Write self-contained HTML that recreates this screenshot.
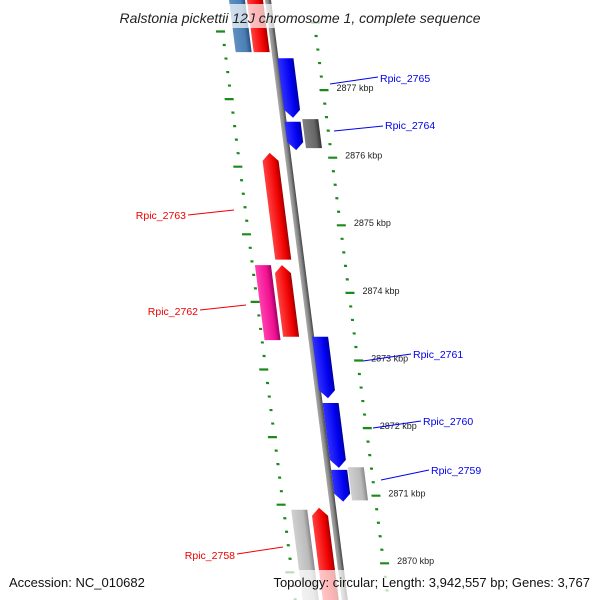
<!DOCTYPE html>
<html><head><meta charset="utf-8"><style>
body{margin:0;background:#fff;}
svg{display:block;font-family:"Liberation Sans",sans-serif;}
</style></head><body>
<svg width="600" height="600" viewBox="0 0 600 600">
<defs>
<linearGradient id="gBlue" x1="0" x2="1" y1="0" y2="0"><stop offset="0" stop-color="#3030ff"/><stop offset="0.7" stop-color="#0000f0"/><stop offset="1" stop-color="#0000a0"/></linearGradient>
<linearGradient id="gRed" x1="0" x2="1" y1="0" y2="0"><stop offset="0" stop-color="#ff4040"/><stop offset="0.7" stop-color="#f00000"/><stop offset="1" stop-color="#a00000"/></linearGradient>
<linearGradient id="gPink" x1="0" x2="1" y1="0" y2="0"><stop offset="0" stop-color="#ff40b0"/><stop offset="0.7" stop-color="#f01090"/><stop offset="1" stop-color="#a00060"/></linearGradient>
<linearGradient id="gSteel" x1="0" x2="1" y1="0" y2="0"><stop offset="0" stop-color="#6090c0"/><stop offset="0.7" stop-color="#4a7fb5"/><stop offset="1" stop-color="#2a5080"/></linearGradient>
<linearGradient id="gDark" x1="0" x2="1" y1="0" y2="0"><stop offset="0" stop-color="#808080"/><stop offset="0.7" stop-color="#666"/><stop offset="1" stop-color="#333"/></linearGradient>
<linearGradient id="gLight" x1="0" x2="1" y1="0" y2="0"><stop offset="0" stop-color="#d0d0d0"/><stop offset="0.7" stop-color="#bbb"/><stop offset="1" stop-color="#888"/></linearGradient>
<linearGradient id="gBack" x1="0" x2="1" y1="0" y2="0"><stop offset="0" stop-color="#aaa"/><stop offset="0.5" stop-color="#888"/><stop offset="1" stop-color="#444"/></linearGradient>
</defs>
<g id="track" transform="matrix(1,0,0.128,1,268,0)"></g>
<g id="overlay"></g>
<rect x="95" y="4" width="410" height="24" fill="#fff" fill-opacity="0.7"/>
<text x="300" y="23" text-anchor="middle" font-size="14" font-style="italic" fill="#222">Ralstonia pickettii 12J chromosome 1, complete sequence</text>
<rect x="0" y="570" width="600" height="30" fill="#fff" fill-opacity="0.7"/>
<text x="9" y="587" font-size="13" fill="#111">Accession: NC_010682</text>
<text x="590" y="587" text-anchor="end" font-size="13" fill="#111">Topology: circular; Length: 3,942,557 bp; Genes: 3,767</text>
</svg>
<script>
const tickKbp=[2878,2877,2876,2875,2874,2873,2872,2871,2870,2869];
const geneNames=["g-top-steel","g-top-red","Rpic_2765","Rpic_2764","g-2764-gray","Rpic_2763","g-2762-pink","Rpic_2762","Rpic_2761","Rpic_2760","Rpic_2759","g-2759-gray","g-2758-gray","Rpic_2758"];
const geneStart=[2878.41,2878.41,2877.47,2876.53,2876.57,2876.07,2874.41,2874.41,2873.35,2872.37,2871.38,2871.42,2870.79,2870.82];
const geneEnd=[2877.56,2877.56,2876.59,2876.11,2876.14,2874.49,2873.30,2873.35,2872.44,2871.41,2870.91,2870.93,2869.38,2869.38];
const geneLane=[-31,-13,10,9,27,-18,-39,-20,9,11,11,28,-34,-14];
const geneFill=["gSteel","gRed","gBlue","gBlue","gDark","gRed","gPink","gRed","gBlue","gBlue","gBlue","gLight","gLight","gRed"];
const geneDir=[0,0,1,1,0,-1,0,-1,1,1,1,0,0,-1];
const labelNames=["Rpic_2765","Rpic_2764","Rpic_2763","Rpic_2762","Rpic_2761","Rpic_2760","Rpic_2759","Rpic_2758"];
const labelPos=[[380,82],[385,129],[186,219],[198,315],[413,358],[423,425],[431,474],[235,559]];
const labelLine=[[330,84,378,77],[334,131,383,126],[188,215,234,210],[200,310,246,305],[363,361,411,354],[373,428,421,421],[381,480,429,470],[237,554,283,547]];
const labelColor=["#0000ee","#0000ee","#ee0000","#ee0000","#0000ee","#0000ee","#0000ee","#ee0000"];

const NS="http://www.w3.org/2000/svg";
const yOf=k=>90+(2877-k)*67.6;
const track=document.getElementById('track'), ov=document.getElementById('overlay');
function mk(tag,attrs,parent){const e=document.createElementNS(NS,tag);for(const k in attrs)e.setAttribute(k,attrs[k]);parent.appendChild(e);return e;}

// backbone
let bb=mk('rect',{x:-3,y:-10,width:6,height:630,fill:'url(#gBack)'},track);



// ticks
for(let i=0;i<tickKbp.length-1;i++){
  for(let j=0;j<5;j++){
    const k=tickKbp[i]-j*0.2, y=yOf(k);
    const major=j===0;
    let r=mk('rect',{x:major?40:42,y:y-1,width:major?9:3,height:2.2,fill:'#1a8a1a'},track);
    
    
    let l=mk('rect',{x:major?-56:-51,y:y+8,width:major?9:3,height:2.2,fill:'#1a8a1a'},track);
    
    
  }
  const y=yOf(tickKbp[i]);
  if(y>40&&y<580){
    let t=mk('text',{x:268+0.128*y+57,y:y+1,'font-size':9,fill:'#222'},ov);
    t.textContent=tickKbp[i]+' kbp';
    
    
  }
}

// genes
for(let i=0;i<geneNames.length;i++){
  const y0=yOf(geneStart[i]), y1=yOf(geneEnd[i]), u=geneLane[i], w=16, a=8;
  let d;
  if(geneDir[i]===1) d=`M${u-w/2},${y0}L${u+w/2},${y0}L${u+w/2},${y1-a}L${u},${y1}L${u-w/2},${y1-a}Z`;
  else if(geneDir[i]===-1) d=`M${u},${y0}L${u+w/2},${y0+a}L${u+w/2},${y1}L${u-w/2},${y1}L${u-w/2},${y0+a}Z`;
  else d=`M${u-w/2},${y0}L${u+w/2},${y0}L${u+w/2},${y1}L${u-w/2},${y1}Z`;
  let p=mk('path',{d:d,fill:'url(#'+geneFill[i]+')'},track);
  
  
}

// labels
for(let i=0;i<labelNames.length;i++){
  const L=labelLine[i];
  let ln=mk('line',{x1:L[0],y1:L[1],x2:L[2],y2:L[3],stroke:labelColor[i],'stroke-width':1},ov);
  
  
  const left=labelColor[i]==="#ee0000";
  let t=mk('text',{x:labelPos[i][0],y:labelPos[i][1],'font-size':10.5,fill:labelColor[i],'text-anchor':left?'end':'start'},ov);
  t.textContent=labelNames[i];
  
  
}
</script>
</body></html>
